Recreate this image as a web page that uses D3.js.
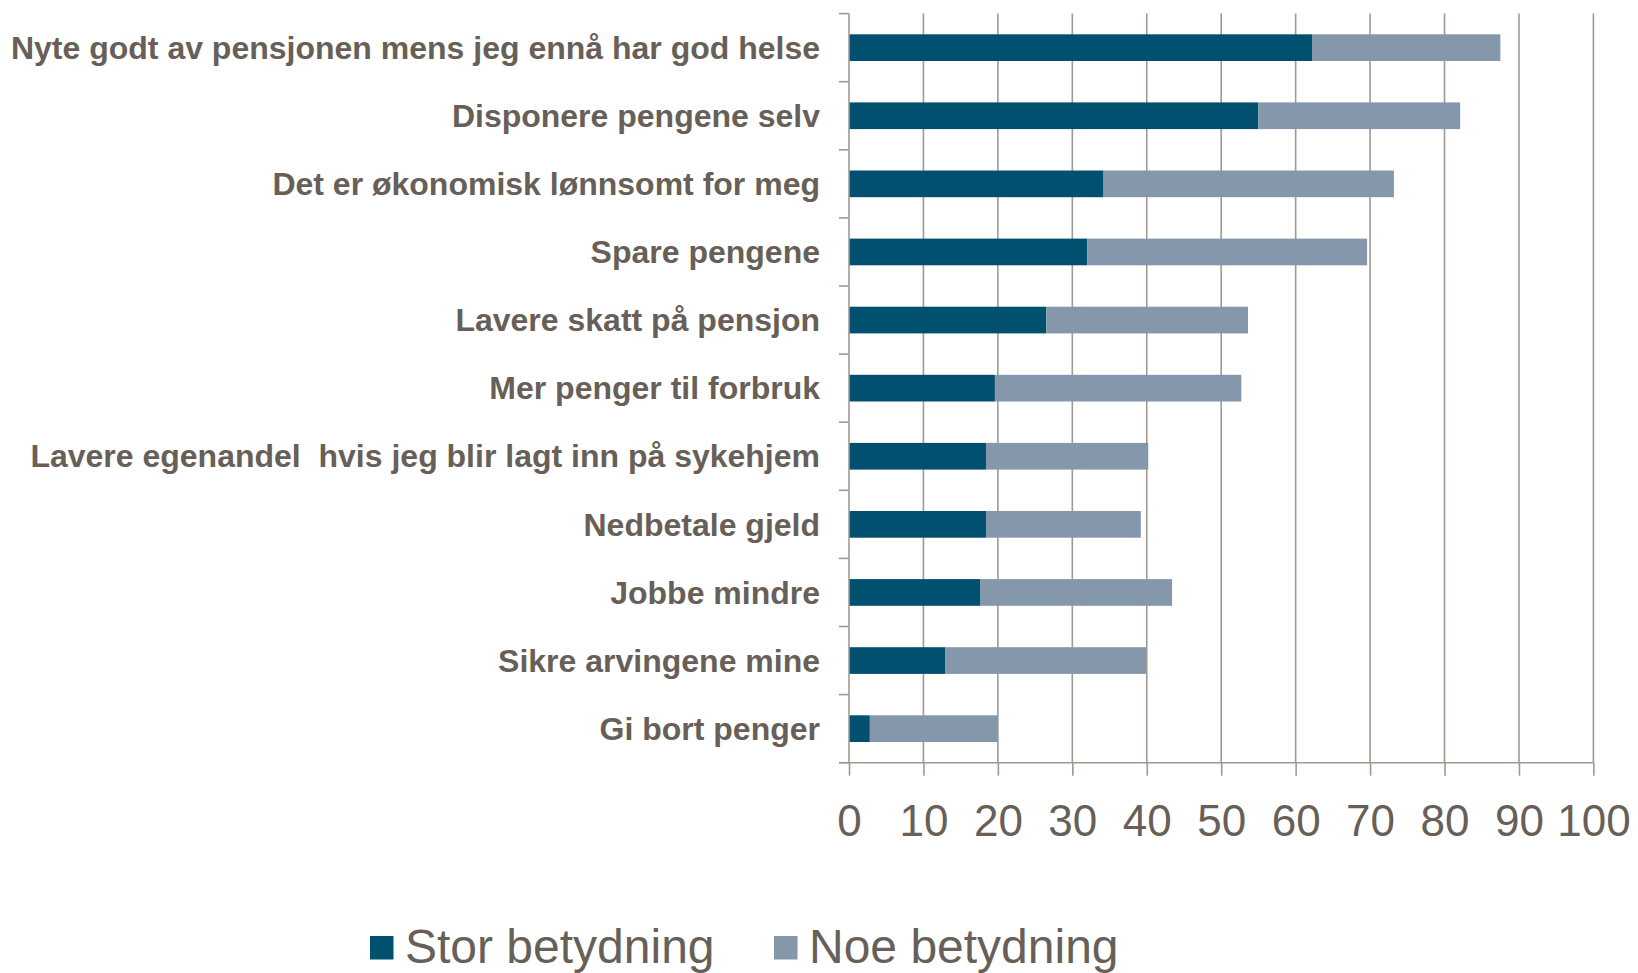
<!DOCTYPE html>
<html>
<head>
<meta charset="utf-8">
<script src="https://cdn.jsdelivr.net/npm/d3@7"></script>
<style>
  html, body { margin: 0; padding: 0; background: #ffffff; }
  svg { display: block; }
  text { font-family: "Liberation Sans", Arial, sans-serif; }
</style>
</head>
<body>
<svg id="chart" width="1638" height="973"></svg>
<script>
const categories = [
  "Nyte godt av pensjonen mens jeg ennå har god helse",
  "Disponere pengene selv",
  "Det er økonomisk lønnsomt for meg",
  "Spare pengene",
  "Lavere skatt på pensjon",
  "Mer penger til forbruk",
  "Lavere egenandel  hvis jeg blir lagt inn på sykehjem",
  "Nedbetale gjeld",
  "Jobbe mindre",
  "Sikre arvingene mine",
  "Gi bort penger"
];
const storBetydning = [62.2, 55.0, 34.2, 32.0, 26.5, 19.6, 18.4, 18.4, 17.6, 12.9, 2.8];
const noeBetydning  = [25.3, 27.1, 39.0, 37.6, 27.1, 33.1, 21.8, 20.8, 25.8, 27.0, 17.2];
const seriesNames = ["Stor betydning", "Noe betydning"];
const xTicks = [0, 10, 20, 30, 40, 50, 60, 70, 80, 90, 100];

const colors = ["#02506f", "#8597ab"];
const textColor = "#675f58";
const gridColor = "#a09a95";

const svg = d3.select("#chart");

const x = d3.scaleLinear().domain([0, 100]).range([849, 1593.4]);
const y = d3.scaleBand().domain(categories).range([13.6, 762.7])
  .paddingInner(0.608).paddingOuter(0.304);

const rows = categories.map((c, i) => ({ cat: c, stor: storBetydning[i], noe: noeBetydning[i] }));
const stack = d3.stack().keys(["stor", "noe"])(rows);

const yTop = y.range()[0], yBot = y.range()[1];

// vertical gridlines
svg.append("g").selectAll("line").data(xTicks.slice(1)).join("line")
  .attr("x1", d => x(d)).attr("x2", d => x(d))
  .attr("y1", yTop).attr("y2", yBot)
  .attr("stroke", gridColor).attr("stroke-width", 1.6);

// bars
svg.append("g").selectAll("g").data(stack).join("g")
  .attr("fill", (d, i) => colors[i])
  .selectAll("rect").data(d => d).join("rect")
  .attr("x", d => x(d[0]))
  .attr("width", d => x(d[1]) - x(d[0]))
  .attr("y", d => y(d.data.cat))
  .attr("height", y.bandwidth());

// bottom axis
const xAxis = d3.axisBottom(x).tickValues(xTicks).tickSize(13).tickPadding(0).tickFormat(d3.format("d"));
const gx = svg.append("g").attr("transform", `translate(0,${yBot})`).call(xAxis);
gx.select(".domain").attr("d", `M${x(0) - 10},0H${x(100)}`)
  .attr("stroke", gridColor).attr("stroke-width", 1.6);
gx.selectAll(".tick line").attr("stroke", gridColor).attr("stroke-width", 1.6);
gx.selectAll(".tick text")
  .attr("y", 73.5).attr("dy", null)
  .attr("fill", textColor)
  .style("font-size", "44px")
  .style("font-family", "'Liberation Sans', Arial, sans-serif");

// left category axis line and ticks at band boundaries
const boundaries = categories.map(c => y(c) - y.step() * y.paddingInner() / 2).concat([yBot]);
svg.append("line")
  .attr("x1", x(0)).attr("x2", x(0)).attr("y1", yTop).attr("y2", yBot)
  .attr("stroke", gridColor).attr("stroke-width", 1.6);
svg.append("g").selectAll("line").data(boundaries).join("line")
  .attr("x1", x(0) - 10).attr("x2", x(0))
  .attr("y1", d => d).attr("y2", d => d)
  .attr("stroke", gridColor).attr("stroke-width", 1.6);

// category labels
svg.append("g").selectAll("text").data(categories).join("text")
  .attr("x", 820)
  .attr("y", d => y(d) + y.bandwidth() / 2)
  .attr("dy", "0.35em")
  .attr("text-anchor", "end")
  .attr("fill", textColor)
  .style("font-size", "32px")
  .style("font-weight", "bold")
  .style("white-space", "pre")
  .text(d => d);

// legend
const legendItems = [{ name: seriesNames[0], x: 370 }, { name: seriesNames[1], x: 774 }];
const lg = svg.append("g").selectAll("g").data(legendItems).join("g")
  .attr("transform", d => `translate(${d.x},0)`);
lg.append("rect").attr("x", 0).attr("y", 936).attr("width", 23.5).attr("height", 23.5)
  .attr("fill", (d, i) => colors[i]);
lg.append("text").attr("x", 35).attr("y", 963)
  .attr("fill", textColor).style("font-size", "48px")
  .text(d => d.name);
</script>
</body>
</html>
